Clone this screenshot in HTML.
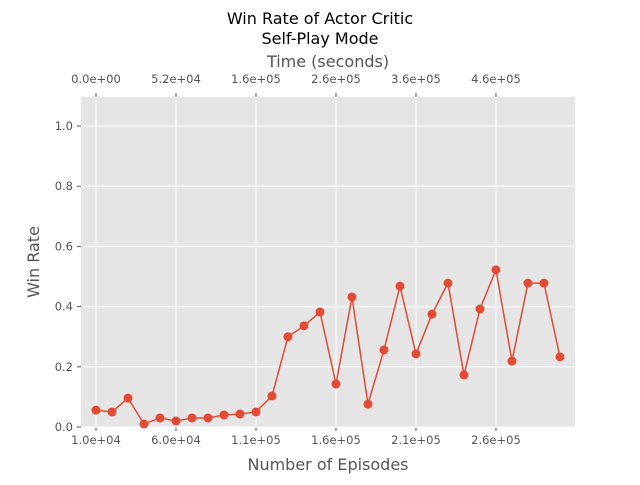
<!DOCTYPE html>
<html><head><meta charset="utf-8"><style>
body{margin:0;background:#fff;font-family:"Liberation Sans","DejaVu Sans",sans-serif}
svg text{font-family:"DejaVu Sans","Liberation Sans",sans-serif}
</style></head><body>
<svg id="chart" width="640" height="480" xmlns="http://www.w3.org/2000/svg">
<rect width="640" height="480" fill="#fff"/>
<text x="320" y="24" text-anchor="middle" font-size="16" fill="#000">Win Rate of Actor Critic</text>
<text x="320" y="44" text-anchor="middle" font-size="16" fill="#000">Self-Play Mode</text>
<text x="328" y="67" text-anchor="middle" font-size="16" fill="#555">Time (seconds)</text>
<text x="328" y="470" text-anchor="middle" font-size="16" fill="#555">Number of Episodes</text>
<text transform="translate(39,262) rotate(-90)" text-anchor="middle" font-size="16" fill="#555">Win Rate</text>
<g id="plot"></g>
</svg>
<script>
const episodes=[1e4,2e4,3e4,4e4,5e4,6e4,7e4,8e4,9e4,10e4,11e4,12e4,13e4,14e4,15e4,16e4,17e4,18e4,19e4,20e4,21e4,22e4,23e4,24e4,25e4,26e4,27e4,28e4,29e4,30e4];
const winRate=[0.056,0.05,0.096,0.01,0.03,0.02,0.03,0.03,0.04,0.043,0.05,0.103,0.3,0.336,0.382,0.143,0.432,0.076,0.256,0.468,0.243,0.375,0.478,0.173,0.392,0.522,0.219,0.478,0.478,0.233];
const xTicks=[1e4,6e4,11e4,16e4,21e4,26e4];
const xTickLabels=["1.0e+04","6.0e+04","1.1e+05","1.6e+05","2.1e+05","2.6e+05"];
const topTickLabels=["0.0e+00","5.2e+04","1.6e+05","2.6e+05","3.6e+05","4.6e+05"];
const topTicks=[1e4,6e4,11e4,16e4,21e4,26e4];
const yTicks=[0,0.2,0.4,0.6,0.8,1.0];
const yTickLabels=["0.0","0.2","0.4","0.6","0.8","1.0"];

const L=81,R=575,T=97,B=427;
const xMin=0.0625e4,xMax=30.94e4,yMin=0,yMax=1.0963;
const X=v=>L+(v-xMin)/(xMax-xMin)*(R-L);
const Y=v=>B-(v-yMin)/(yMax-yMin)*(B-T);
const NS="http://www.w3.org/2000/svg";
const g=document.getElementById('plot');
function mk(tag,attrs){const e=document.createElementNS(NS,tag);for(const k in attrs)e.setAttribute(k,attrs[k]);g.appendChild(e);return e;}
let e=mk('rect',{x:L,y:T,width:R-L,height:B-T,fill:'#E5E5E5'});


xTicks.forEach((t,i)=>{
  const x=X(t);
  let l=mk('line',{x1:x,x2:x,y1:T,y2:B,stroke:'#fff','stroke-width':1});
  
  
  let tk=mk('line',{x1:x,x2:x,y1:B,y2:B+4,stroke:'#555'});
  
  
  let tx=mk('text',{x:x,y:B+17,'text-anchor':'middle','font-size':11.5,fill:'#555'});
  tx.textContent=xTickLabels[i];
  
  
});
topTicks.forEach((t,i)=>{
  const x=X(t);
  let tk=mk('line',{x1:x,x2:x,y1:T-4,y2:T,stroke:'#555'});
  
  
  let tx=mk('text',{x:x,y:T-14,'text-anchor':'middle','font-size':11.5,fill:'#555'});
  tx.textContent=topTickLabels[i];
  
  
});
yTicks.forEach((t,i)=>{
  const y=Y(t);
  let l=mk('line',{x1:L,x2:R,y1:y,y2:y,stroke:'#fff','stroke-width':1});
  
  
  let tk=mk('line',{x1:L-4,x2:L,y1:y,y2:y,stroke:'#555'});
  
  
  let tx=mk('text',{x:L-8,y:y+4,'text-anchor':'end','font-size':11.5,fill:'#555'});
  tx.textContent=yTickLabels[i];
  
  
});
const pts=episodes.map((v,i)=>X(v)+','+Y(winRate[i])).join(' ');
let pl=mk('polyline',{points:pts,fill:'none',stroke:'#E24A33','stroke-width':1.5});


episodes.forEach((v,i)=>{
  let c=mk('circle',{cx:X(v),cy:Y(winRate[i]),r:4.5,fill:'#E24A33'});
  
  
});
</script>
</body></html>
